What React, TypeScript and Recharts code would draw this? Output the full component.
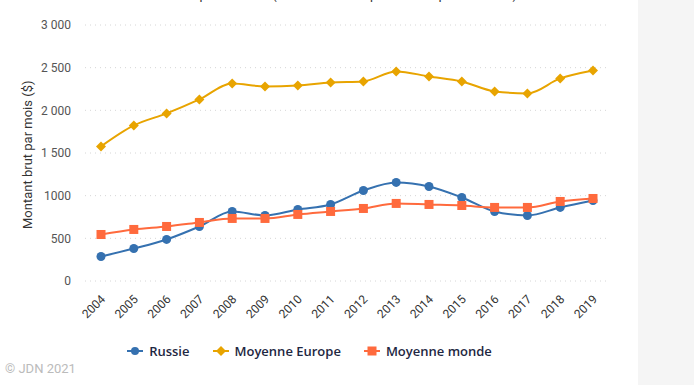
import { LineChart, Line, XAxis, YAxis, CartesianGrid } from "recharts";

const years = ["2004", "2005", "2006", "2007", "2008", "2009", "2010", "2011", "2012", "2013", "2014", "2015", "2016", "2017", "2018", "2019"];
const russie = [287, 381, 487, 639, 815, 768, 838, 897, 1061, 1155, 1108, 979, 815, 768, 862, 944];
const europe = [1577, 1823, 1964, 2128, 2315, 2280, 2292, 2327, 2339, 2456, 2397, 2339, 2222, 2198, 2374, 2468];
const monde = [545, 604, 639, 686, 733, 733, 780, 815, 850, 909, 897, 885, 862, 862, 932, 967];

const yTicks = [0, 500, 1000, 1500, 2000, 2500, 3000];
const yTickLabels = ["0", "500", "1000", "1 500", "2 000", "2 500", "3 000"];
const bandEdges = years.map((_, i) => i).concat(years.length);

const data = years.map((year, i) => ({
    year,
    russie: russie[i],
    europe: europe[i],
    monde: monde[i]
}));

const BLUE = "#3571b0";
const GOLD = "#e8a400";
const RED = "#ff6a3d";

const font = "Roboto, 'Open Sans', sans-serif";

const Circle = (props: any) => (
    <circle cx={props.cx} cy={props.cy} r={4.5} fill={BLUE} />
);

const Diamond = (props: any) => {
    const { cx, cy } = props;
    return <path d={`M${cx},${cy - 5}L${cx + 5},${cy}L${cx},${cy + 5}L${cx - 5},${cy}Z`} fill={GOLD} />;
};

const Square = (props: any) => (
    <rect x={props.cx - 4.5} y={props.cy - 4.5} width={9} height={9} fill={RED} />
);

const YearTick = (props: any) => {
    const { x, y, payload } = props;
    const tx = x + 5;
    const ty = y + 11;
    return (
        <text
            x={tx}
            y={ty}
            textAnchor="end"
            fontSize={12}
            fill="#333"
            fontFamily={font}
            transform={`rotate(-45 ${tx} ${ty})`}
        >
            {payload.value}
        </text>
    );
};

const legendItems = [
    { name: "Russie", color: BLUE, shape: "circle" },
    { name: "Moyenne Europe", color: GOLD, shape: "diamond" },
    { name: "Moyenne monde", color: RED, shape: "square" }
];

const LegendBox = () => (
    <div style={{ position: "absolute", left: 0, top: 342, width: 618, display: "flex", justifyContent: "center", gap: 22, fontFamily: "'Open Sans', sans-serif", fontWeight: 600, fontSize: 13, color: "#1e2742" }}>
        {legendItems.map((item) => (
            <div key={item.name} style={{ display: "flex", alignItems: "center" }}>
                <svg width={18} height={12} style={{ marginRight: 5 }}>
                    <line x1={1} y1={6} x2={17} y2={6} stroke={item.color} strokeWidth={2} />
                    {item.shape === "circle" && <circle cx={9} cy={6} r={4} fill={item.color} />}
                    {item.shape === "diamond" && <path d="M9,1L14,6L9,11L4,6Z" fill={item.color} />}
                    {item.shape === "square" && <rect x={4.5} y={1.5} width={9} height={9} fill={item.color} />}
                </svg>
                {item.name}
            </div>
        ))}
    </div>
);

export default function App() {

    return (

        <div style={{ position: "absolute", left: 0, top: 0, width: 694, height: 385, background: "#fff", overflow: "hidden" }}>

            <div style={{ position: "absolute", left: 638, top: 0, width: 56, height: 385, background: "#f5f5f5" }} />

            <div style={{ position: "absolute", left: 8, top: -13, fontSize: 13, color: "#333", fontFamily: font, whiteSpace: "nowrap" }}>
                évolution du revenu national brut par habitant (source : JDN d'après la Banque mondiale)
            </div>

            <div style={{ position: "absolute", left: 5, top: 361, fontSize: 13, color: "#bbb", fontFamily: font }}>
                © JDN 2021
            </div>

            <div style={{ position: "absolute", left: 0, top: 0 }}>

                <LineChart
                    width={638}
                    height={385}
                    data={data}
                    margin={{ top: 25, right: 29, bottom: 44, left: 25 }}
                >

                    <CartesianGrid horizontal vertical={false} stroke="#d6d6d6" strokeDasharray="1 4" />

                    <XAxis
                        xAxisId="edges"
                        type="number"
                        domain={[0, years.length]}
                        ticks={bandEdges}
                        allowDataOverflow
                        height={0}
                        tick={false}
                        tickSize={10}
                        stroke="#c2d0e2"
                    />

                    <XAxis
                        dataKey="year"
                        padding={{ left: 16, right: 16 }}
                        axisLine={false}
                        tickLine={false}
                        interval={0}
                        height={60}
                        tick={<YearTick />}
                    />

                    <YAxis
                        width={60}
                        domain={[0, 3000]}
                        ticks={yTicks}
                        axisLine={false}
                        tickLine={false}
                        tickMargin={8}
                        tick={{ fontSize: 12, fill: "#555", fontFamily: font }}
                        tickFormatter={(v: number) => yTickLabels[yTicks.indexOf(v)]}
                        label={{ value: "Montant brut par mois ($)", angle: -90, position: "insideLeft", offset: 0, dx: 2, dy: 76, style: { fontSize: 13, fill: "#333", fontFamily: font } }}
                    />

                    <Line type="monotone" dataKey="russie" name="Russie" stroke={BLUE} strokeWidth={2} dot={<Circle />} activeDot={false} isAnimationActive={false} />
                    <Line type="monotone" dataKey="europe" name="Moyenne Europe" stroke={GOLD} strokeWidth={2} dot={<Diamond />} activeDot={false} isAnimationActive={false} />
                    <Line type="monotone" dataKey="monde" name="Moyenne monde" stroke={RED} strokeWidth={2} dot={<Square />} activeDot={false} isAnimationActive={false} />

                </LineChart>

            </div>

            <LegendBox />

        </div>

    );

}
